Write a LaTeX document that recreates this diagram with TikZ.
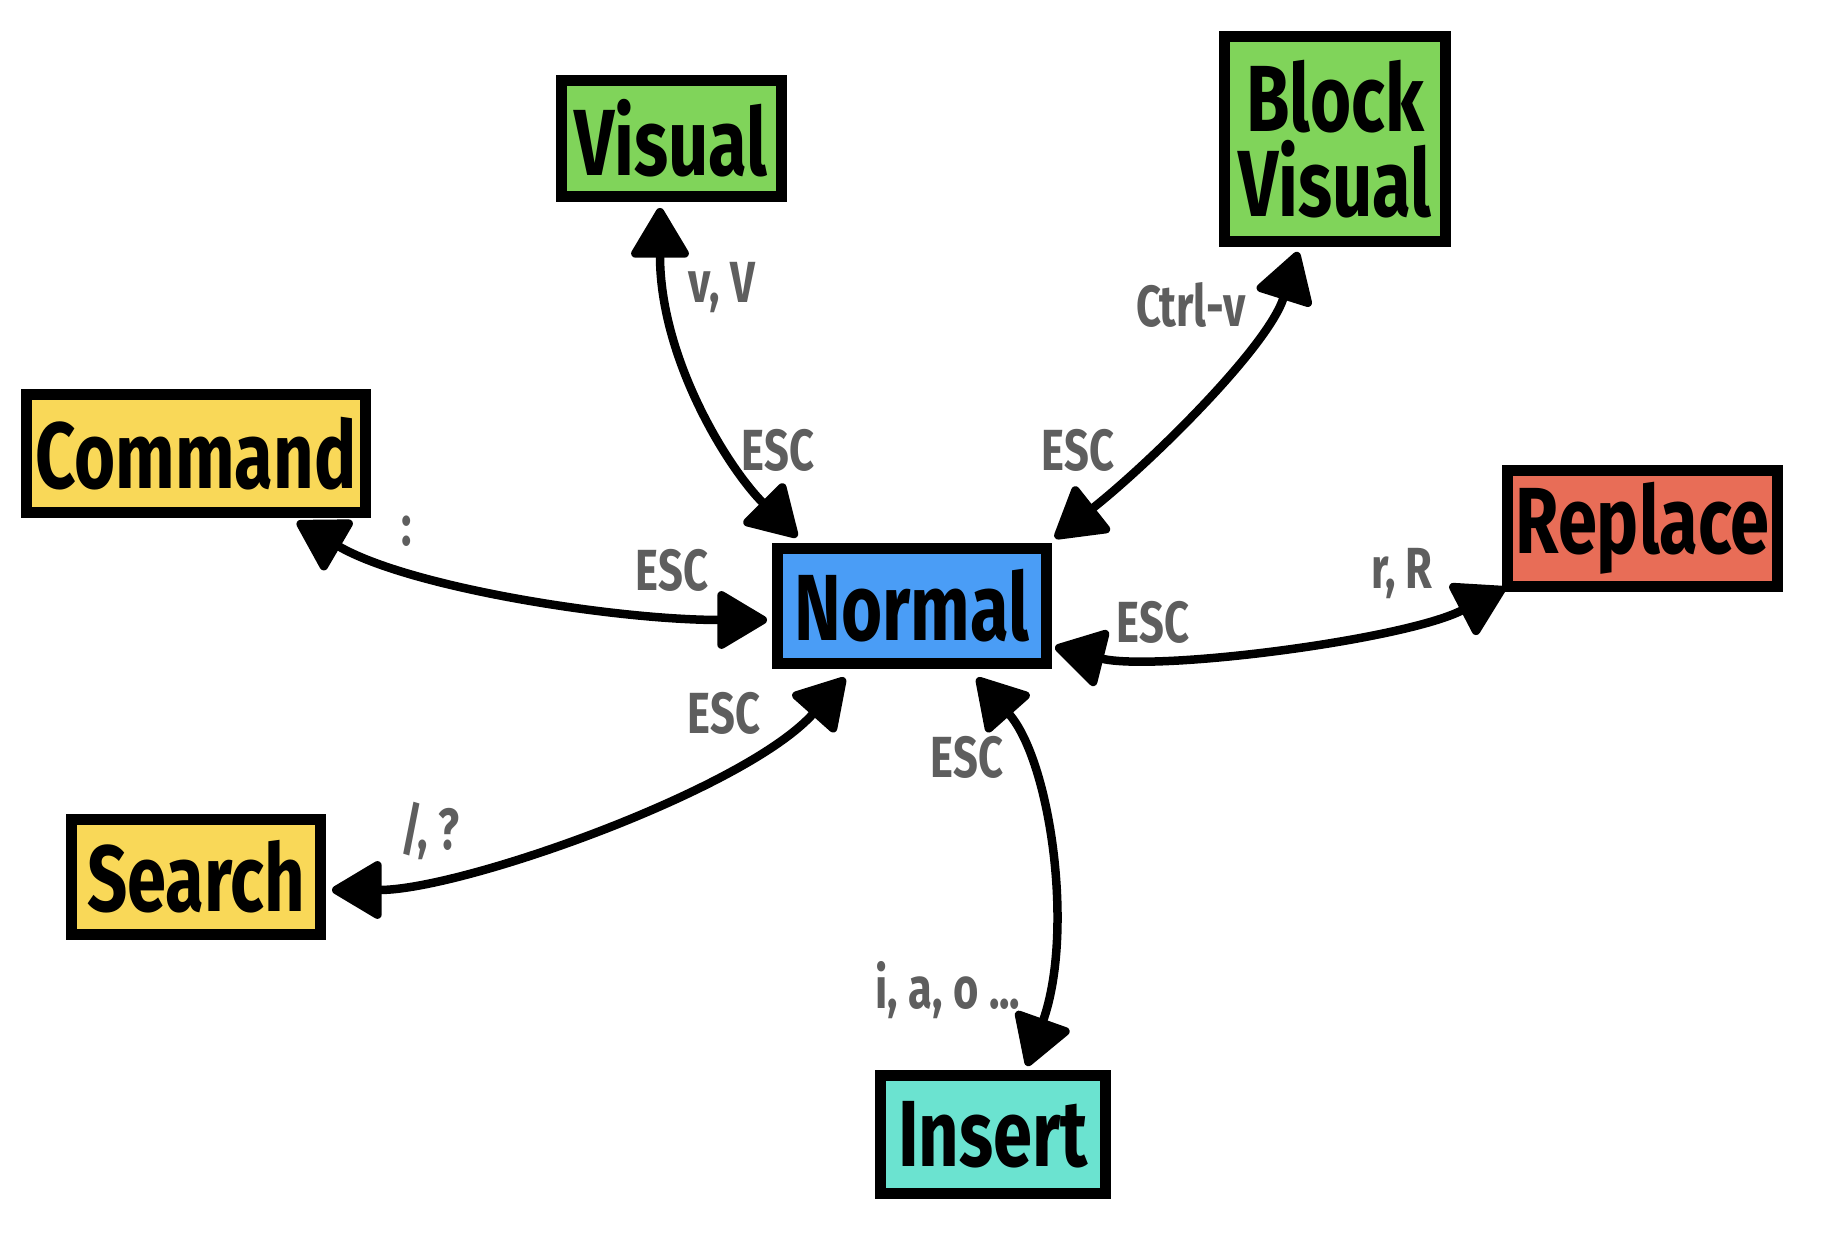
\documentclass[tikz,border=0pt]{standalone}
\usepackage{fontspec}
\usetikzlibrary{arrows.meta,shadows}
\newfontfamily\handfont[FakeStretch=0.75]{Fira Sans}
\definecolor{cblue}{HTML}{4A9DF6}
\definecolor{cgreen}{HTML}{80D45A}
\definecolor{cyellow}{HTML}{F9D858}
\definecolor{cred}{HTML}{E86D57}
\definecolor{ccyan}{HTML}{6BE3D0}
\definecolor{cgray}{HTML}{5E5E5E}
\tikzset{
  mode/.style={draw=black, line width=11pt, inner sep=0pt, align=center,
    font=\handfont\bfseries\fontsize{94}{85}\selectfont,
    drop shadow={shadow xshift=4pt, shadow yshift=-5pt, opacity=0.25}},
  keylab/.style={inner sep=0pt, text=cgray,
    font=\handfont\bfseries\fontsize{58}{60}\selectfont},
  conn/.style={line width=8.5pt, line cap=round, line join=round,
    {Triangle[length=54pt,width=62pt,round]}-{Triangle[length=54pt,width=62pt,round]}}
}
\begin{document}
\begin{tikzpicture}[x=1pt,y=1pt]
\useasboundingbox (0,0) rectangle (1824,1238);
% mode boxes
\node[mode, fill=cgreen, minimum width=220pt, minimum height=116pt] (visual) at (671,1099.5) {Visual};
\node[mode, fill=cgreen, minimum width=221pt, minimum height=205pt] (block) at (1335,1099) {Block\\Visual};
\node[mode, fill=cyellow, minimum width=339pt, minimum height=118pt] (command) at (196,784.5) {Command};
\node[mode, fill=cblue, minimum width=269pt, minimum height=115pt] (normal) at (912,632) {Normal};
\node[mode, fill=cred, minimum width=270pt, minimum height=116pt] (replace) at (1642.5,709.5) {Replace};
\node[mode, fill=cyellow, minimum width=249pt, minimum height=115pt] (search) at (196,361) {Search};
\node[mode, fill=ccyan, minimum width=225pt, minimum height=118pt] (insert) at (993,103.5) {Insert};
% connectors
\draw[conn] ([xshift=-11pt,yshift=-6pt]visual.south) .. controls +(0,-150) and +(-70,70) .. ([xshift=25pt,yshift=6pt]normal.north west);
\draw[conn] ([xshift=-37pt,yshift=-5pt]block.south) .. controls +(-30,-95) and +(95,75) .. ([xshift=3pt,yshift=5pt]normal.north east);
\draw[conn] ([xshift=-74pt,yshift=-4pt]command.south east) .. controls +(113,-66) and +(-150,0) .. ([xshift=-5pt,yshift=-14pt]normal.west);
\draw[conn] ([xshift=3pt,yshift=-41pt]normal.east) .. controls +(100,-25) and +(-100,-52) .. ([xshift=3pt,yshift=4pt]replace.south west);
\draw[conn] ([xshift=6pt,yshift=-13pt]search.east) .. controls +(130,0) and +(-100,-112) .. ([xshift=73pt,yshift=-9pt]normal.south west);
\draw[conn] ([xshift=65pt,yshift=-9pt]normal.south) .. controls +(73,-82) and +(48,135) .. ([xshift=34pt,yshift=4pt]insert.north);
% key labels
\node[keylab] (l1) at (722,950) {v, V};
\node[keylab] (l2) at (778,788) {ESC};
\node[keylab] (l3) at (1191,933) {Ctrl-v};
\node[keylab] (l4) at (1078,788) {ESC};
\node[keylab] (l5) at (407,707) {:};
\node[keylab] (l6) at (672,668) {ESC};
\node[keylab] (l7) at (1402,664) {r, R};
\node[keylab] (l8) at (1153,616) {ESC};
\node[keylab] (l9) at (430,407) {/, ?};
\node[keylab] (l10) at (724,525) {ESC};
\node[keylab] (l11) at (967,481) {ESC};
\node[keylab] (l12) at (948,248) {i, a, o ...};
\end{tikzpicture}
\end{document}
